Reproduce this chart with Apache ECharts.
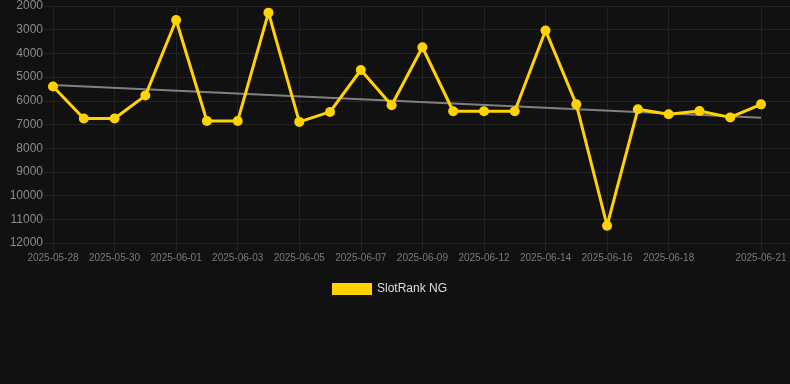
<!DOCTYPE html>
<html>
<head>
<meta charset="utf-8">
<script src="https://cdn.jsdelivr.net/npm/echarts@6/dist/echarts.min.js"></script>
<style>
  html, body { margin: 0; padding: 0; background: #111111; }
  #chart { width: 790px; height: 384px; }
</style>
</head>
<body>
<div id="chart"></div>
<script>
const dates = ['2025-05-28', '2025-05-29', '2025-05-30', '2025-05-31', '2025-06-01', '2025-06-02',
    '2025-06-03', '2025-06-04', '2025-06-05', '2025-06-06', '2025-06-07', '2025-06-08',
    '2025-06-09', '2025-06-10', '2025-06-12', '2025-06-13', '2025-06-14', '2025-06-15',
    '2025-06-16', '2025-06-17', '2025-06-18', '2025-06-19', '2025-06-20', '2025-06-21'];

const ranks = [5400, 6750, 6750, 5780, 2590, 6850, 6850, 2280, 6890, 6470, 4700, 6190,
    3740, 6440, 6440, 6440, 3030, 6150, 11270, 6360, 6570, 6430, 6700, 6150];

// trend line ends
const trendEnds = [5330, 6710];

const yTicks = { min: 2000, max: 12000, step: 1000 };

const trend = dates.map((d, i) => i === 0 ? trendEnds[0] : (i === dates.length - 1 ? trendEnds[1] : null));

// which categories get a label / grid line
function shown(i) {
    return (i % 2 === 0 && i < dates.length - 2) || i === dates.length - 1;
}

const gridColor = '#232323';
const font = 'Liberation Sans, Arial, Helvetica, sans-serif';

var chart = echarts.init(document.getElementById('chart'));

chart.setOption({
    backgroundColor: '#111111',
    animation: false,
    legend: {
        top: 278,
        left: 327,
        itemWidth: 40,
        itemHeight: 12,
        itemGap: 10,
        icon: 'rect',
        data: ['SlotRank NG'],
        textStyle: { color: '#dddddd', fontSize: 12, fontFamily: font }
    },
    grid: [
        { left: 53, right: 29, top: 6, bottom: 141 },
        // background grid, only for the wide horizontal lines
        { left: 44, right: 0, top: 6, bottom: 141 }
    ],
    xAxis: [{
        type: 'category',
        gridIndex: 0,
        data: dates,
        boundaryGap: false,
        axisLine: { show: false },
        axisTick: {
            show: true,
            length: 9,
            interval: (i) => shown(i),
            lineStyle: { color: gridColor }
        },
        axisLabel: {
            interval: (i) => shown(i),
            color: '#7a7a7a',
            fontSize: 10,
            fontFamily: font,
            margin: 10
        },
        splitLine: {
            show: true,
            interval: (i) => shown(i),
            lineStyle: { color: gridColor, width: 1 }
        }
    }, {
        type: 'value',
        gridIndex: 1,
        show: false
    }],
    yAxis: [{
        type: 'value',
        gridIndex: 0,
        inverse: true,
        min: yTicks.min,
        max: yTicks.max,
        interval: yTicks.step,
        axisLine: { show: false },
        axisTick: { show: false },
        splitLine: { show: false },
        axisLabel: {
            color: '#8a8a8a',
            fontSize: 12,
            fontFamily: font,
            margin: 10,
            formatter: (v) => String(v)
        }
    }, {
        type: 'value',
        gridIndex: 1,
        inverse: true,
        min: yTicks.min,
        max: yTicks.max,
        interval: yTicks.step,
        axisLine: { show: false },
        axisTick: { show: false },
        axisLabel: { show: false },
        splitLine: { show: true, lineStyle: { color: gridColor, width: 1 } }
    }],
    series: [{
        name: 'Trend',
        type: 'line',
        data: trend,
        connectNulls: true,
        symbol: 'none',
        z: 2,
        lineStyle: { color: '#808080', width: 2 }
    }, {
        name: 'SlotRank NG',
        type: 'line',
        data: ranks,
        symbol: 'circle',
        symbolSize: 10,
        z: 3,
        lineStyle: { color: '#FFD200', width: 3 },
        itemStyle: { color: '#FFD200' }
    }]
});
</script>
</body>
</html>
